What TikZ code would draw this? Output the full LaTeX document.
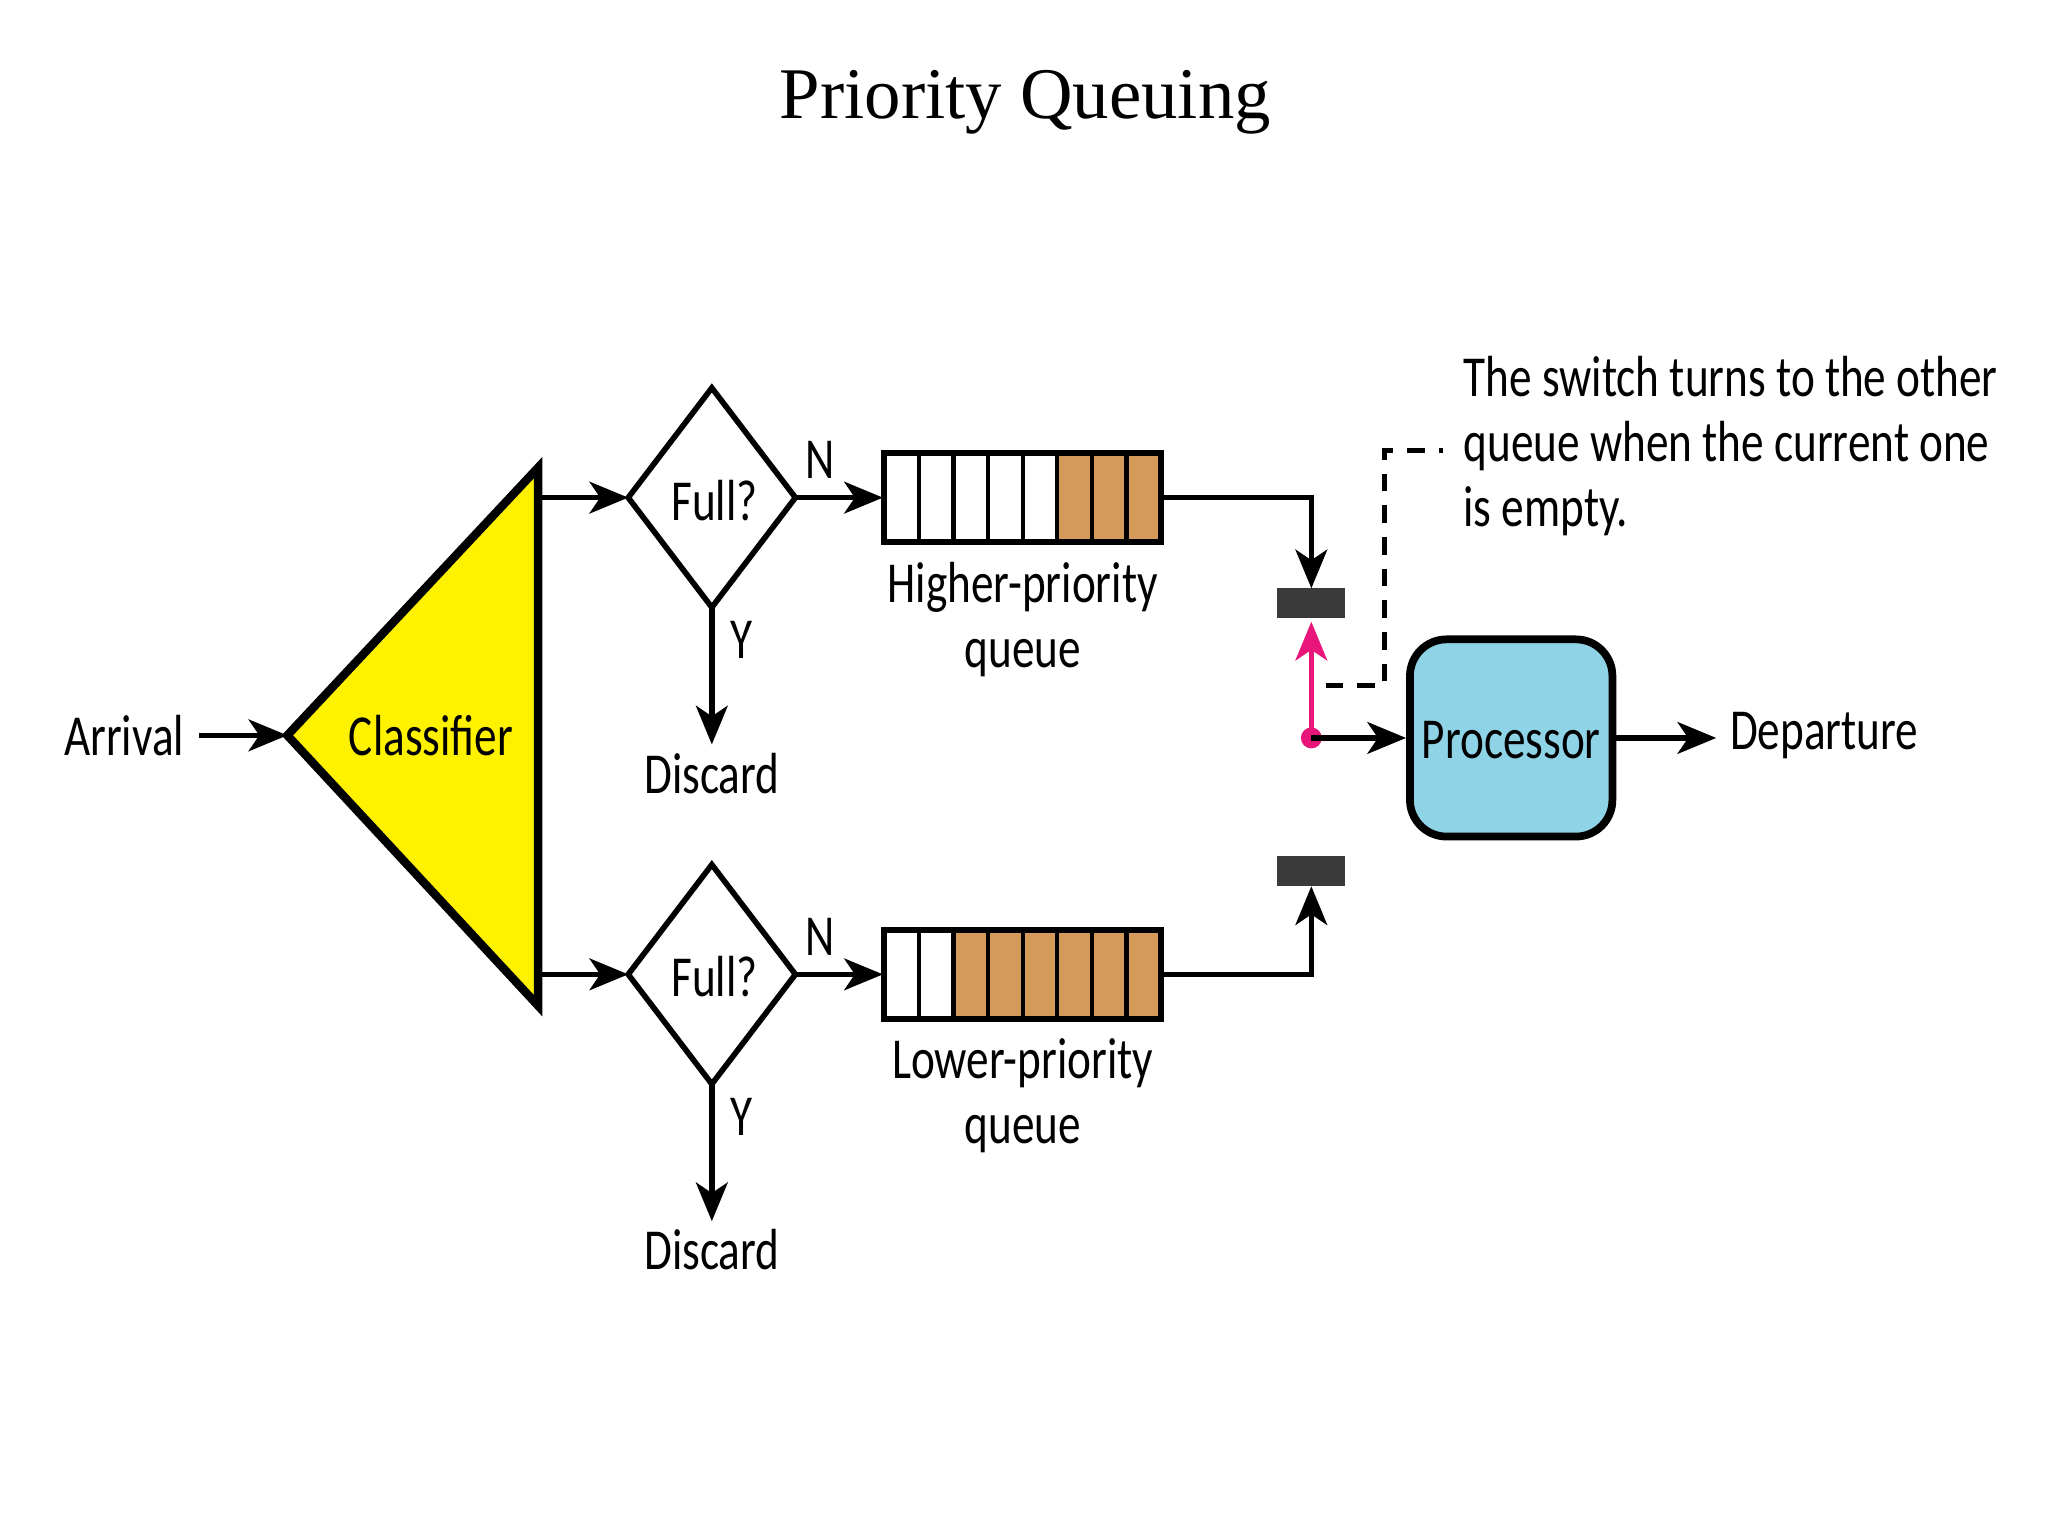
\documentclass[tikz,border=0pt]{standalone}
\usepackage{fontspec}
\setmainfont{Liberation Serif}
\newfontfamily\dfont[FakeStretch=0.78]{Carlito}
\usetikzlibrary{arrows.meta}
\definecolor{brownq}{HTML}{D49A5A}
\definecolor{procblue}{HTML}{8FD3E6}
\definecolor{barg}{HTML}{3A3A3A}
\definecolor{pinkc}{HTML}{E8157A}
\begin{document}
\begin{tikzpicture}[x=0.01306cm,y=-0.01306cm,
  lbl/.style={font=\dfont\fontsize{16.5}{18.5}\selectfont,inner sep=0pt},
  ln/.style={line width=1.6pt},
  arr/.style={ln,-{Stealth[length=11pt,width=9pt,inset=3pt]}},
  dia/.style={draw,line width=1.6pt,fill=white}]
\useasboundingbox (0,0) rectangle (1568,1176);
\node[font=\fontsize{20.7}{24}\selectfont] (title) at (785,78) {Priority Queuing};
% classifier
\coordinate (ta) at (220,563);
\coordinate (tt) at (412,358);
\coordinate (tb) at (412,770);
\draw[line width=2.4pt,fill=yellow,line join=miter] (ta)--(tt)--(tb)--cycle;
\node[lbl] (cls) at (330,563) {Classifier};
\node[lbl] (arr) at (95,563) {Arrival};
\draw[arr] (152,563) -- (ta);
% diamonds
\foreach \n/\y in {u/381,l/746}{
  \draw[dia] (481,\y)--(545,\y-84)--(609,\y)--(545,\y+84)--cycle;
  \node[lbl] (full\n) at (547,\y+2) {Full?};
  \coordinate (dl\n) at (481,\y);
  \coordinate (dr\n) at (609,\y);
  \coordinate (db\n) at (545,\y+84);
  \node[lbl] (disc\n) at (545,\y+211) {Discard};
  \node[lbl] (y\n) at (568,\y+109) {Y};
  \node[lbl] (n\n) at (628,\y-29) {N};
  \draw[arr] (412,\y) -- (dl\n);
  \draw[arr] (db\n) -- (545,\y+189);
  \draw[arr] (dr\n) -- (676,\y);
}
% queues
\foreach \i in {0,...,7}{
  \pgfmathsetmacro\xa{677+\i*26.5}
  \pgfmathsetmacro\xb{677+(\i+1)*26.5}
  \ifnum\i<5 \def\fc{white}\else\def\fc{brownq}\fi
  \draw[line width=1.2pt,fill=\fc] (\xa,347) rectangle (\xb,415);
  \ifnum\i<2 \def\fc{white}\else\def\fc{brownq}\fi
  \draw[line width=1.2pt,fill=\fc] (\xa,712) rectangle (\xb,780);
}
\draw[line width=1.6pt] (677,347) rectangle (889,415);
\draw[line width=1.6pt] (677,712) rectangle (889,780);
\coordinate (qu) at (889,381);
\coordinate (ql) at (889,746);
\node[lbl,align=center] (hq) at (783,474) {Higher-priority\\queue};
\node[lbl,align=center] (lq) at (783,839) {Lower-priority\\queue};
% switch bars
\node[draw=barg,fill=barg,minimum width=51*0.01306cm,minimum height=22*0.01306cm,inner sep=0pt] (bu) at (1004,462) {};
\node[draw=barg,fill=barg,minimum width=51*0.01306cm,minimum height=22*0.01306cm,inner sep=0pt] (bl) at (1004,667) {};
\draw[arr] (qu) -- (1004,381) -- (bu.north);
\draw[arr] (ql) -- (1004,746) -- (bl.south);
\fill[pinkc] (1004,565) circle (8);
\coordinate (sw) at (1004,565);
\draw[line width=1.6pt,pinkc,-{Stealth[length=11pt,width=9pt,inset=3pt]}] (sw) -- (1004,476);
% processor
\node[draw,line width=2.2pt,fill=procblue,rounded corners=28*0.01306cm,minimum width=155*0.01306cm,minimum height=151*0.01306cm,inner sep=0pt] (proc) at (1157,565) {};
\node[lbl] (proct) at (1157,567) {Processor};
\draw[arr] (sw) -- (proc.west);
\node[lbl,anchor=west] (dep) at (1324,563) {Departure};
\draw[arr] (proc.east) -- (1314,565);
% note
\node[lbl,anchor=north west,align=left] (note) at (1120,272) {The switch turns to the other\\queue when the current one\\is empty.};
\draw[line width=1.3pt,dash pattern=on 5pt off 4pt] (1015,525) -- (1060,525) -- (1060,345) -- (1105,345);
\end{tikzpicture}
\end{document}
